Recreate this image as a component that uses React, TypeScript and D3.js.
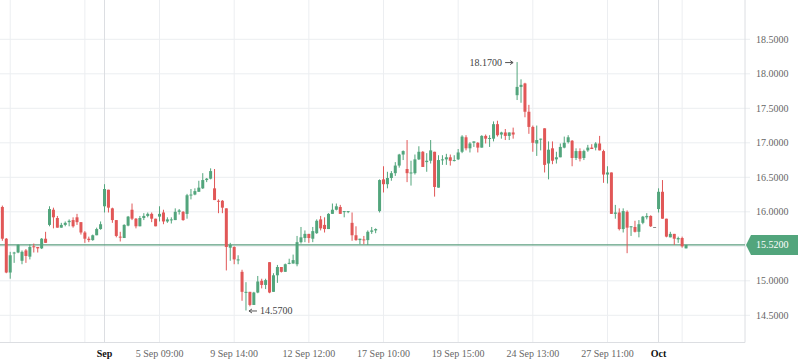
import React from "react";
import * as d3 from "d3";

// candles, oldest first (open / high / low / close)
const opens = [16.07,15.61,15.12,15.40,15.41,15.29,15.44,15.35,15.50,15.49,15.47,15.61,15.81,16.03,15.91,15.77,15.81,15.85,15.88,15.92,15.85,15.70,15.61,15.59,15.66,15.75,16.08,16.32,16.05,15.88,15.64,15.62,15.80,16.03,15.90,15.79,15.91,15.94,15.97,15.90,15.93,15.99,15.86,15.88,15.88,16.00,16.00,15.97,16.24,16.25,16.29,16.34,16.46,16.48,16.34,16.16,16.16,16.05,15.48,15.49,15.30,15.13,14.83,14.84,14.65,14.83,15.00,14.94,15.27,14.84,15.08,15.20,15.13,15.25,15.25,15.24,15.56,15.62,15.68,15.61,15.69,15.89,15.81,15.75,15.97,16.03,16.07,16.00,16.00,15.84,15.66,15.59,15.60,15.59,15.71,15.73,16.01,16.47,16.40,16.49,16.56,16.67,16.83,16.62,16.56,16.56,16.76,16.87,16.72,16.74,16.87,16.35,16.75,16.76,16.79,16.74,16.76,16.87,17.08,16.92,17.00,17.00,16.93,17.10,17.06,17.06,17.27,17.12,17.15,17.10,17.15,17.69,17.81,17.86,17.45,17.23,16.99,17.05,17.21,16.70,16.92,16.76,16.79,16.93,17.01,17.03,16.78,16.88,16.78,16.89,16.93,16.93,16.99,16.88,16.54,16.57,15.97,15.99,15.75,16.00,15.78,15.78,15.71,15.84,15.92,15.94,15.78,16.04,16.29,15.90,15.63,15.68,15.60,15.62,15.47];
const highs = [16.09,15.62,15.42,15.42,15.53,15.44,15.46,15.53,15.54,15.49,15.62,15.71,16.08,16.06,15.94,15.84,15.86,15.89,15.92,15.97,15.85,15.72,15.64,15.67,15.77,15.86,16.40,16.32,16.06,15.88,15.71,15.82,15.94,16.12,15.91,15.94,15.98,15.99,15.99,15.90,16.08,16.03,15.92,15.92,16.05,16.04,16.01,16.26,16.33,16.34,16.45,16.56,16.49,16.63,16.62,16.18,16.17,16.05,15.55,15.50,15.37,15.16,14.98,14.84,14.84,15.07,15.03,15.03,15.27,15.11,15.23,15.20,15.25,15.32,15.38,15.65,15.78,15.73,15.68,15.78,15.89,15.94,15.92,15.98,16.12,16.12,16.10,16.01,16.01,15.99,15.79,15.61,15.65,15.73,15.78,15.76,16.47,16.66,16.58,16.59,16.72,16.84,16.89,17.04,16.74,16.83,16.95,16.88,16.85,17.04,16.87,16.82,16.82,16.84,16.83,16.82,16.91,17.11,17.11,17.01,17.02,17.01,17.11,17.12,17.11,17.31,17.32,17.16,17.20,17.15,17.22,18.17,17.92,17.87,17.55,17.25,17.25,17.06,17.21,17.02,17.02,16.87,16.99,17.09,17.11,17.04,16.92,16.92,16.90,16.97,16.98,17.01,17.10,16.90,16.66,16.57,16.10,16.05,16.05,16.02,15.79,15.87,15.88,15.94,15.98,15.95,15.78,16.34,16.46,15.90,15.71,15.68,15.64,15.64,15.52];
const lows = [15.58,15.11,15.03,15.26,15.40,15.24,15.26,15.31,15.41,15.41,15.46,15.55,15.79,15.76,15.77,15.77,15.79,15.79,15.77,15.81,15.67,15.55,15.56,15.58,15.66,15.74,15.99,15.99,15.84,15.63,15.57,15.62,15.79,15.88,15.76,15.79,15.88,15.92,15.85,15.79,15.86,15.82,15.84,15.83,15.88,15.96,15.87,15.90,16.18,16.24,16.29,16.33,16.43,16.47,16.17,15.98,15.98,15.15,15.29,15.24,15.24,14.71,14.57,14.63,14.65,14.82,14.89,14.88,14.82,14.84,14.97,15.12,15.13,15.24,15.25,15.21,15.54,15.56,15.55,15.56,15.68,15.73,15.70,15.75,15.97,16.02,15.97,15.92,15.98,15.58,15.58,15.53,15.53,15.52,15.68,15.69,15.99,16.28,16.34,16.45,16.52,16.64,16.75,16.43,16.38,16.54,16.75,16.65,16.58,16.70,16.22,16.35,16.68,16.68,16.67,16.73,16.75,16.85,16.89,16.86,16.94,16.86,16.93,16.99,16.94,17.02,17.09,17.06,17.04,17.04,17.06,17.62,17.58,17.37,17.13,16.87,16.81,16.89,16.57,16.47,16.69,16.70,16.79,16.92,16.99,16.66,16.75,16.73,16.75,16.87,16.91,16.89,16.89,16.42,16.41,15.97,15.90,15.73,15.70,15.40,15.65,15.70,15.63,15.82,15.89,15.78,15.78,15.99,15.90,15.63,15.63,15.52,15.55,15.48,15.47];
const closes = [15.61,15.12,15.37,15.41,15.52,15.42,15.36,15.49,15.49,15.47,15.61,15.55,16.04,15.92,15.77,15.81,15.84,15.87,15.79,15.85,15.70,15.61,15.59,15.66,15.75,15.82,16.33,16.06,15.88,15.65,15.63,15.81,15.93,15.90,15.79,15.91,15.94,15.97,15.90,15.79,15.97,15.86,15.89,15.89,16.00,16.02,15.88,16.24,16.25,16.30,16.35,16.46,16.48,16.59,16.17,16.15,16.06,15.49,15.52,15.31,15.31,14.84,14.84,14.65,14.83,14.99,14.94,15.01,14.83,15.08,15.20,15.13,15.24,15.26,15.30,15.56,15.63,15.68,15.62,15.72,15.87,15.76,15.75,15.97,16.03,16.08,15.97,16.01,16.01,15.66,15.59,15.61,15.59,15.71,15.73,15.75,16.46,16.40,16.49,16.56,16.67,16.83,16.88,16.56,16.57,16.76,16.87,16.65,16.74,16.89,16.36,16.75,16.76,16.79,16.74,16.75,16.86,17.09,16.92,16.99,17.02,16.93,17.10,17.06,17.07,17.27,17.11,17.15,17.10,17.15,17.12,17.81,17.84,17.45,17.23,17.00,17.04,17.06,16.68,16.90,16.74,16.79,16.94,17.00,17.08,16.78,16.88,16.77,16.88,16.93,16.91,16.99,16.89,16.54,16.57,15.97,15.99,15.75,16.01,15.77,15.79,15.71,15.82,15.93,15.94,15.79,15.78,16.29,15.90,15.64,15.68,15.61,15.62,15.50,15.52];

// x axis: candle index of each grid line and its label ("" = no label)
const gridIndex = [2, 21, 40, 59, 78, 97, 116, 135, 154, 173];
const gridLabels = ["", "", "5 Sep 09:00", "9 Sep 14:00", "12 Sep 12:00", "17 Sep 10:00", "19 Sep 15:00", "24 Sep 13:00", "27 Sep 11:00", ""];
const monthIndex = [26, 167];
const monthLabels = ["Sep", "Oct"];

const lastPrice = 15.52;
const highMark = { index: 131, value: 18.17 };
const lowMark = { index: 62, value: 14.57 };

const W = 798;
const H = 363;
const plotRight = 745;
const plotBottom = 342.5;
const green = "#52a57c";
const red = "#e15757";
const font = "'Liberation Serif', serif";

export default function App() {
  const x = d3.scaleLinear().domain([-0.6, 189]).range([0, plotRight]);
  const y = d3.scaleLinear().domain([14.5, 18.5]).range([315.3, 39.3]);
  const yTicks = y.ticks(8);
  const fmt = d3.format(".4f");

  const candles = opens.map((o, i) => {
    const c = closes[i];
    const col = c > o ? green : c < o ? red : "#8a8a8a";
    const cx = x(i);
    const top = y(Math.max(o, c));
    const bh = Math.max(1, y(Math.min(o, c)) - top);
    return (
      <g key={i}>
        <line x1={cx} x2={cx} y1={y(highs[i])} y2={y(lows[i])} stroke={col} strokeWidth={1} />
        <rect x={cx - 1.5} y={top} width={3} height={bh} fill={col} />
      </g>
    );
  });

  const py = y(lastPrice);
  const hx = x(highMark.index);
  const hy = y(highMark.value);
  const lx = x(lowMark.index);
  const ly = y(lowMark.value);

  return (
    <svg width={W} height={H} style={{ position: "fixed", left: 0, top: 0, background: "#fff" }}>
      {/* horizontal grid */}
      {yTicks.map((t) => (
        <line key={t} x1={0} x2={plotRight + 5} y1={y(t)} y2={y(t)} stroke="#eceef1" />
      ))}
      {/* vertical grid */}
      {gridIndex.map((g) => (
        <line key={g} x1={x(g)} x2={x(g)} y1={0} y2={plotBottom} stroke="#eceef1" />
      ))}
      {monthIndex.map((g) => (
        <line key={g} x1={x(g)} x2={x(g)} y1={0} y2={plotBottom} stroke="#dcdee2" />
      ))}
      {/* frame */}
      <line x1={0} x2={plotRight} y1={plotBottom} y2={plotBottom} stroke="#dcdee2" />
      <line x1={plotRight} x2={plotRight} y1={0} y2={plotBottom} stroke="#dcdee2" />

      <line x1={0} x2={plotRight} y1={py} y2={py} stroke="#5e9f80" strokeWidth={1.2} />
      {candles}

      {/* y labels */}
      {yTicks.map((t) => (
        <text key={t} x={756} y={y(t)} dy="0.35em" fontSize={10} fontFamily={font} fill="#666">
          {fmt(t)}
        </text>
      ))}
      <path d={`M${plotRight + 1},${py} L${plotRight + 6},${py - 10} H${W} V${py + 10} H${plotRight + 6} Z`} fill={green} />
      <text x={756} y={py} dy="0.35em" fontSize={10} fontFamily={font} fill="#fff">
        {fmt(lastPrice)}
      </text>

      {/* x labels */}
      {gridIndex.map((g, i) => (
        <text key={g} x={x(g)} y={357} textAnchor="middle" fontSize={10} fontFamily={font} fill="#666">
          {gridLabels[i]}
        </text>
      ))}
      {monthIndex.map((g, i) => (
        <text key={g} x={x(g)} y={357} textAnchor="middle" fontSize={10} fontWeight="bold" fontFamily={font} fill="#111">
          {monthLabels[i]}
        </text>
      ))}

      {/* high / low markers */}
      <g stroke="#555" strokeWidth={1} fill="none">
        <path d={`M${hx - 12},${hy + 0.5} H${hx - 4} M${hx - 7},${hy - 1.5} L${hx - 4},${hy + 0.5} L${hx - 7},${hy + 2.5}`} />
        <path d={`M${lx + 3},${ly + 0.5} H${lx + 11} M${lx + 6},${ly - 1.5} L${lx + 3},${ly + 0.5} L${lx + 6},${ly + 2.5}`} />
      </g>
      <text x={hx - 15} y={hy} dy="0.35em" textAnchor="end" fontSize={10} fontFamily={font} fill="#444">
        {fmt(highMark.value)}
      </text>
      <text x={lx + 14} y={ly} dy="0.35em" fontSize={10} fontFamily={font} fill="#444">
        {fmt(lowMark.value)}
      </text>
    </svg>
  );
}
